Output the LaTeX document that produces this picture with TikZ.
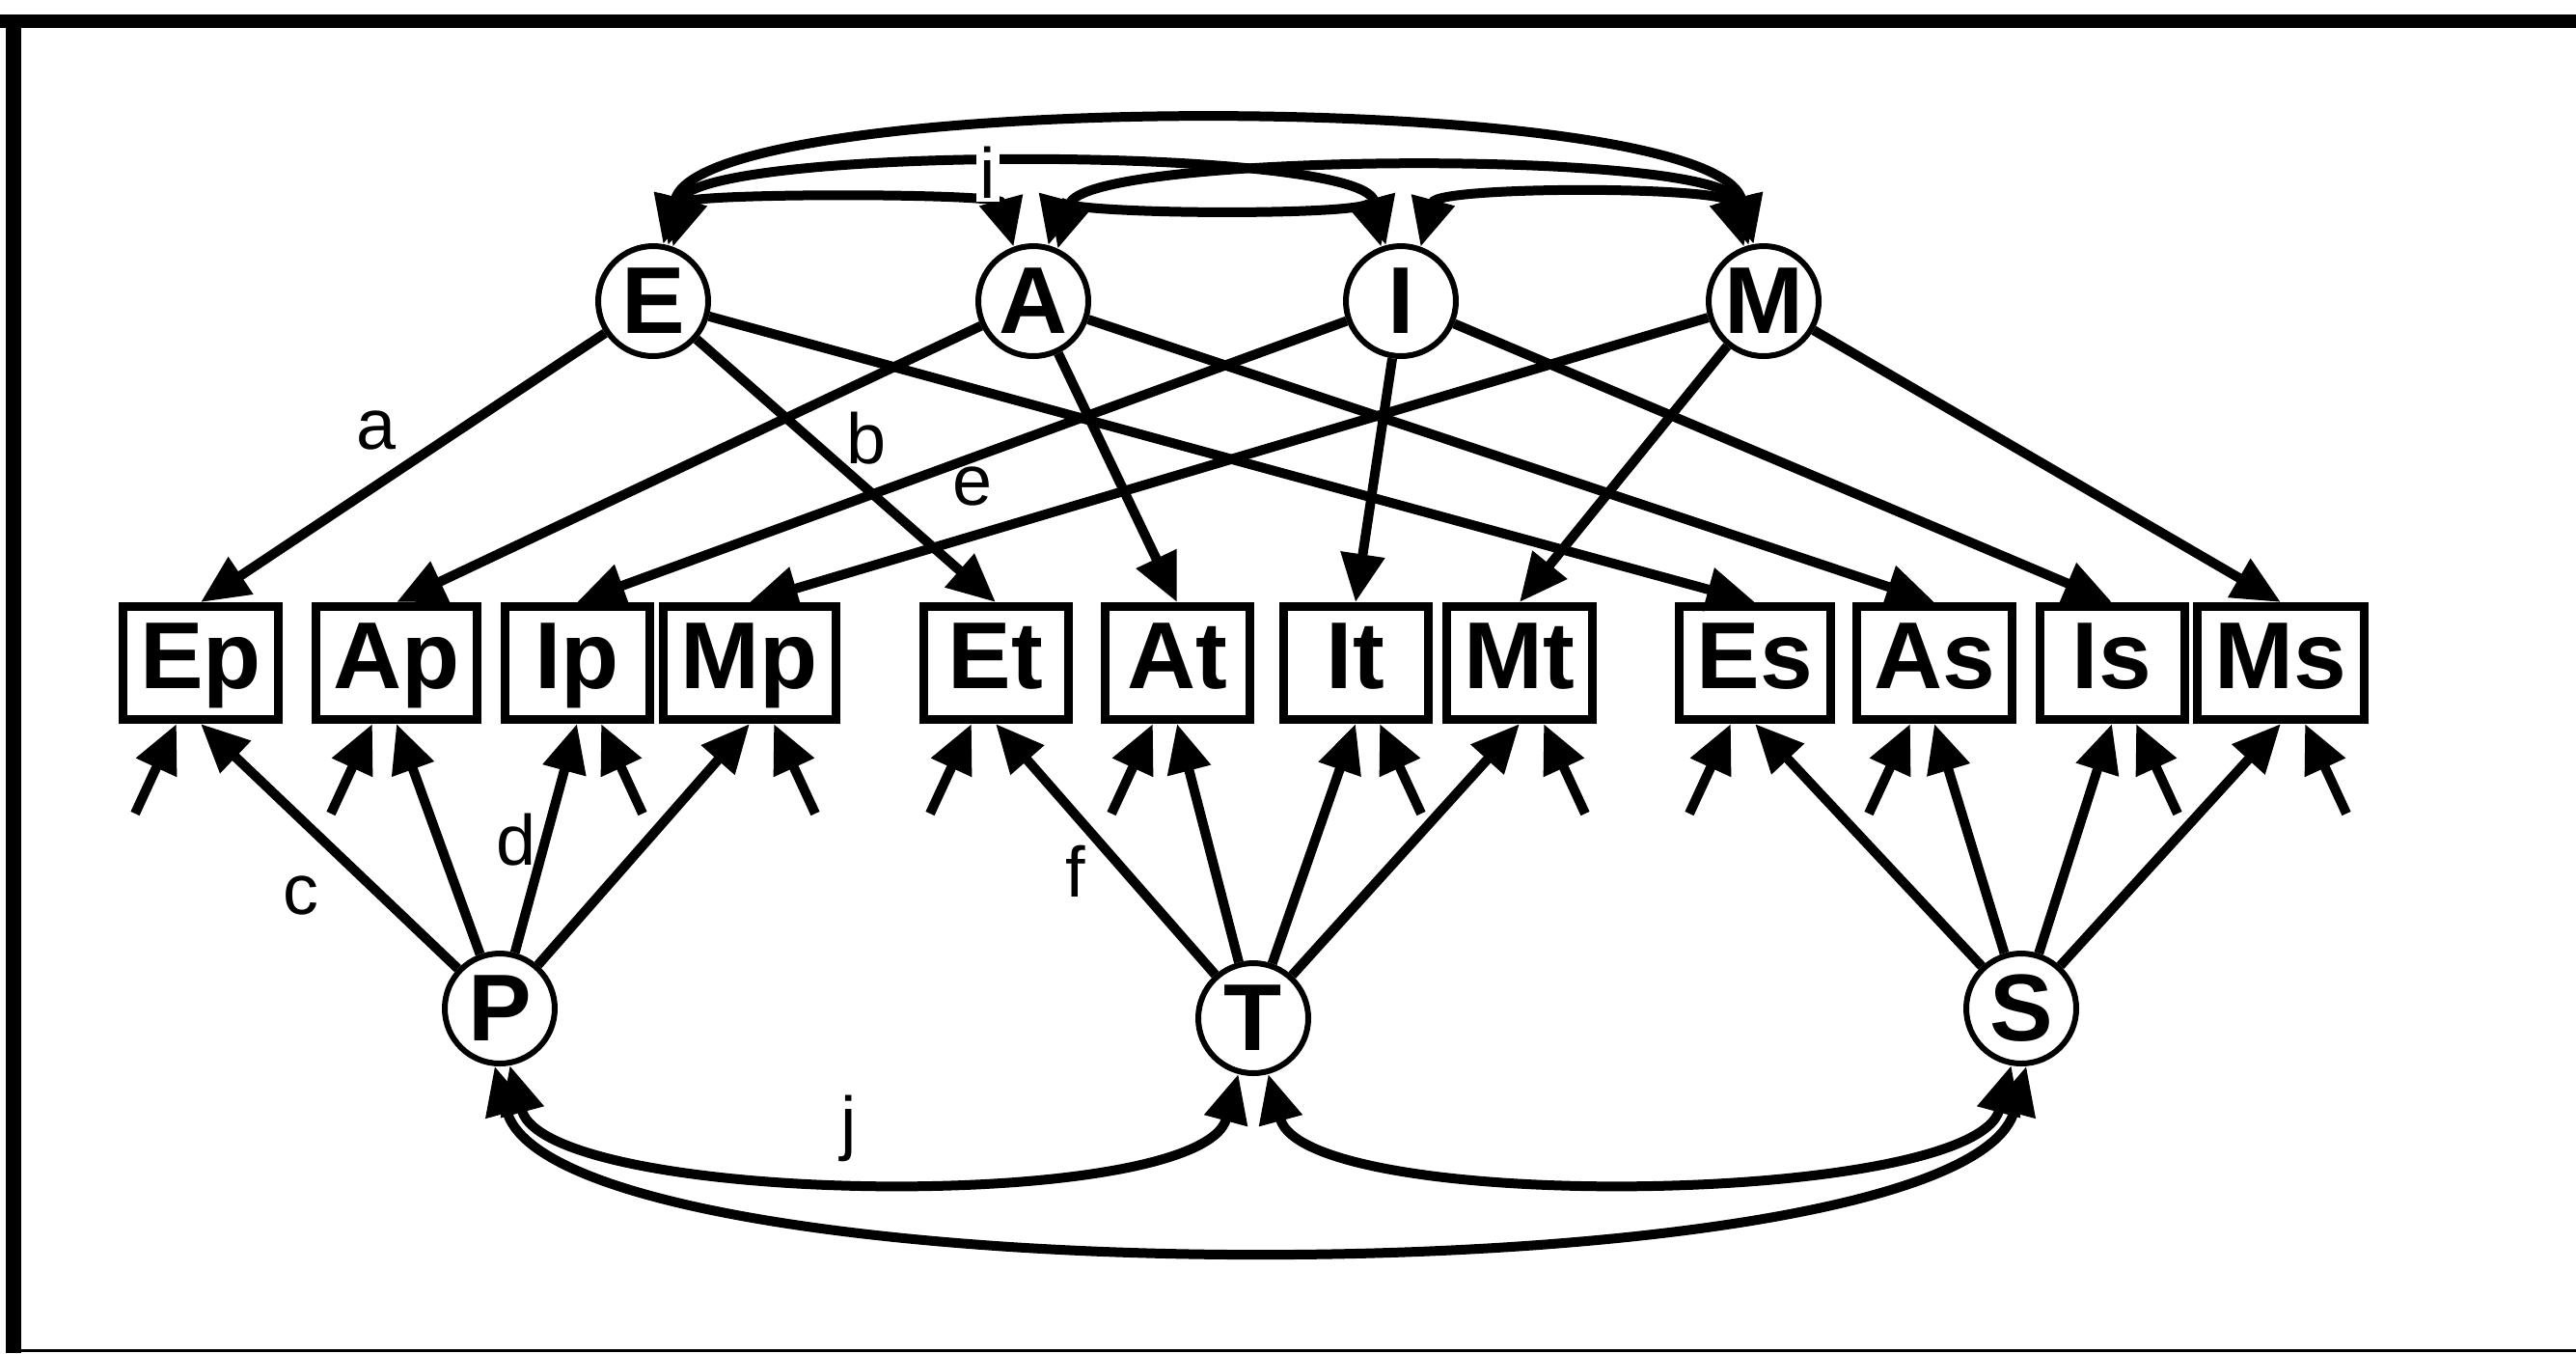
\documentclass[tikz,border=0pt]{standalone}
\usepackage{fontspec}
\setmainfont{Liberation Sans}
\usetikzlibrary{arrows.meta,positioning}

\begin{document}
\begin{tikzpicture}[
    every node/.style={font=\fontsize{28}{30}\selectfont\bfseries},
    latent/.style={draw,circle,line width=0.06cm,minimum size=1.14cm,inner sep=0pt},
    obs/.style={draw,rectangle,line width=0.09cm,minimum width=1.5cm,minimum height=1.17cm,
                inner xsep=0.18cm,inner ysep=0.1cm,text height=0.72cm,text depth=0.2cm},
    lbl/.style={font=\fontsize{21}{24}\selectfont,inner sep=1pt},
    arr/.style={-{Triangle[length=0.5cm,width=0.44cm]},line width=0.1cm},
    corr/.style={{Triangle[length=0.5cm,width=0.44cm]}-{Triangle[length=0.5cm,width=0.44cm]},line width=0.1cm}
  ]
  \useasboundingbox (0,0) rectangle (26.70,-14.02);

  % frame
  \draw[line width=0.14cm] (0,-0.22) -- (26.70,-0.22);
  \draw[line width=0.16cm] (0.14,-0.15) -- (0.14,-14.02);
  \draw[line width=0.03cm] (0.06,-13.995) -- (26.70,-13.995);

  % traits
  \node[latent] (E) at (6.77,-3.12) {E};
  \node[latent] (A) at (10.71,-3.12) {A};
  \node[latent] (I) at (14.52,-3.12) {I};
  \node[latent] (M) at (18.28,-3.12) {M};

  % methods
  \node[latent] (P) at (5.18,-10.45) {P};
  \node[latent] (T) at (12.99,-10.55) {T};
  \node[latent] (S) at (20.95,-10.45) {S};

  % measures
  \node[obs] (Ep) at (2.08,-6.87) {Ep};
  \node[obs] (Ap) at (4.11,-6.87) {Ap};
  \node[obs] (Ip) at (5.98,-6.87) {Ip};
  \node[obs] (Mp) at (7.77,-6.87) {Mp};
  \node[obs] (Et) at (10.32,-6.87) {Et};
  \node[obs] (At) at (12.20,-6.87) {At};
  \node[obs] (It) at (14.05,-6.87) {It};
  \node[obs] (Mt) at (15.75,-6.87) {Mt};
  \node[obs] (Es) at (18.19,-6.87) {Es};
  \node[obs] (As) at (20.05,-6.87) {As};
  \node[obs] (Is) at (21.89,-6.87) {Is};
  \node[obs] (Ms) at (23.64,-6.87) {Ms};

  % trait loadings
  \draw[arr] (E) -- (Ep.north);
  \draw[arr] (E) -- (Et.north);
  \draw[arr] (E) -- (Es.north);
  \draw[arr] (A) -- (Ap.north);
  \draw[arr] (A) -- (At.north);
  \draw[arr] (A) -- (As.north);
  \draw[arr] (I) -- (Ip.north);
  \draw[arr] (I) -- (It.north);
  \draw[arr] (I) -- (Is.north);
  \draw[arr] (M) -- (Mp.north);
  \draw[arr] (M) -- (Mt.north);
  \draw[arr] (M) -- (Ms.north);

  % method loadings
  \draw[arr] (P) -- (Ep.south);
  \draw[arr] (P) -- (Ap.south);
  \draw[arr] (P) -- (Ip.south);
  \draw[arr] (P) -- (Mp.south);
  \draw[arr] (T) -- (Et.south);
  \draw[arr] (T) -- (At.south);
  \draw[arr] (T) -- (It.south);
  \draw[arr] (T) -- (Mt.south);
  \draw[arr] (S) -- (Es.south);
  \draw[arr] (S) -- (As.south);
  \draw[arr] (S) -- (Is.south);
  \draw[arr] (S) -- (Ms.south);

  % uniquenesses
  \coordinate (uEp) at ([shift={(-0.68,-0.93)}]Ep.south);
  \coordinate (uAp) at ([shift={(-0.68,-0.93)}]Ap.south);
  \coordinate (uIp) at ([shift={(0.68,-0.93)}]Ip.south);
  \coordinate (uMp) at ([shift={(0.68,-0.93)}]Mp.south);
  \coordinate (uEt) at ([shift={(-0.68,-0.93)}]Et.south);
  \coordinate (uAt) at ([shift={(-0.68,-0.93)}]At.south);
  \coordinate (uIt) at ([shift={(0.68,-0.93)}]It.south);
  \coordinate (uMt) at ([shift={(0.68,-0.93)}]Mt.south);
  \coordinate (uEs) at ([shift={(-0.68,-0.93)}]Es.south);
  \coordinate (uAs) at ([shift={(-0.68,-0.93)}]As.south);
  \coordinate (uIs) at ([shift={(0.68,-0.93)}]Is.south);
  \coordinate (uMs) at ([shift={(0.68,-0.93)}]Ms.south);
  \draw[arr] (uEp) -- ([xshift=-0.25cm]Ep.south);
  \draw[arr] (uAp) -- ([xshift=-0.25cm]Ap.south);
  \draw[arr] (uIp) -- ([xshift=0.25cm]Ip.south);
  \draw[arr] (uMp) -- ([xshift=0.25cm]Mp.south);
  \draw[arr] (uEt) -- ([xshift=-0.25cm]Et.south);
  \draw[arr] (uAt) -- ([xshift=-0.25cm]At.south);
  \draw[arr] (uIt) -- ([xshift=0.25cm]It.south);
  \draw[arr] (uMt) -- ([xshift=0.25cm]Mt.south);
  \draw[arr] (uEs) -- ([xshift=-0.25cm]Es.south);
  \draw[arr] (uAs) -- ([xshift=-0.25cm]As.south);
  \draw[arr] (uIs) -- ([xshift=0.25cm]Is.south);
  \draw[arr] (uMs) -- ([xshift=0.25cm]Ms.south);

  % trait correlations
  \draw[corr] (E.80) to[out=75,in=105,looseness=0.38] (M.100);
  \draw[corr] (E.75) to[out=75,in=105,looseness=0.37] (I.105);
  \draw[corr] (E.70) to[out=75,in=105,looseness=0.42] (A.110);
  \draw[corr] (A.75) to[out=75,in=105,looseness=0.24] (I.110);
  \draw[corr] (A.65) to[out=75,in=105,looseness=0.37] (M.105);
  \draw[corr] (I.70) to[out=75,in=105,looseness=0.50] (M.110);

  % method correlations
  \draw[corr] (P.280) to[out=-75,in=-105,looseness=0.51] (T.255);
  \draw[corr] (T.285) to[out=-75,in=-105,looseness=0.50] (S.260);
  \draw[corr] (P.265) to[out=-75,in=-105,looseness=0.41] (S.275);

  % path labels
  \node[lbl] (la) at (3.90,-4.46) {a};
  \node[lbl] (lb) at (8.98,-4.54) {b};
  \node[lbl] (le) at (10.08,-5.04) {e};
  \node[lbl] (lc) at (3.12,-9.28) {c};
  \node[lbl] (ld) at (5.35,-8.70) {d};
  \node[lbl] (lf) at (11.15,-9.03) {f};
  \node[lbl,fill=white] (li) at (10.24,-1.79) {i};
  \node[lbl] (lj) at (8.80,-11.69) {j};
\end{tikzpicture}
\end{document}
